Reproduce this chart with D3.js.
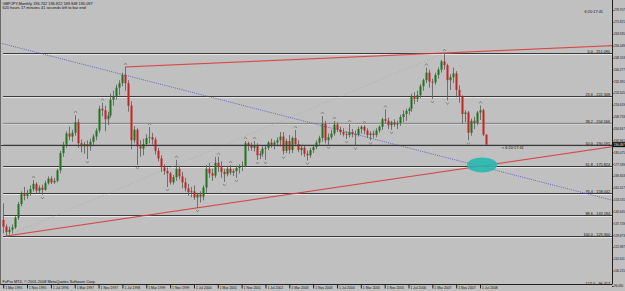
<!DOCTYPE html>
<html><head><meta charset="utf-8">
<script src="https://cdn.jsdelivr.net/npm/d3@7"></script>
<style>
html,body{margin:0;padding:0;background:#c0c0c0;}
svg{display:block;font-family:"Liberation Sans",Arial,sans-serif;}
</style></head><body><div id="chart"></div>
<script>
// GBPJPY monthly bars, Mar 1995 .. Sep 2008
var opens = [140,135.5,132,133.5,135,141.5,150.5,157.5,156,158,160.5,164,159.5,161.5,160,164.5,167.5,165,166,173,184.5,190,197.5,195.5,198,205,191,189,190.5,189,192,195.5,199.5,214,213,207,209.5,220,222,228,231,236.5,231,216,193,200,189,187.5,190.5,194.5,195,193.5,186,181,175,172.5,171,165,168.5,174,169,165,161,158.5,159,155,157,155.5,161.5,174,171,169.5,178,175,172,170.5,174,171.5,172.5,174.5,175.5,176,191,189.5,188,189.5,183,184,187.5,188,191.5,190,191.5,193,195.5,186,192.5,186.5,194.5,190.5,186.5,188,184,183,186.5,188.5,191.5,194.5,204,193,195,197.5,203.5,200,198.5,197,196.5,198.5,197,196.5,200.5,202,199.5,196.5,197.5,196.5,199.5,202,207,206,203,205,203.5,204.5,208.5,210.5,212.5,214,222.5,220.5,223,229,233,238,232,231.5,236.5,240,245.5,243,233,235,237.5,226.5,222,210.5,211.5,198,206,204.5,211.5,213,196.742];
var highs = [151,137,135.5,137,142.5,152,159,162,160,163,166.5,165,163,163.5,166,169,169,168,174,186,192,199,202,200,209.8,207,193.5,192,193,194,197,201,216,218,216,212,224,226,230,233,238,241.8,233,219,202.5,201,193,194,197,201.8,198,195,188,183,177,175,172,170,180,176,172,168,164,162,163,158,159,163,176.5,178,174,181.9,182,179,174,176,176.5,174,176,177,179,192.5,192,191.5,192.5,191,186,189,190,192.5,194,193,195,198.5,198.5,194,196.5,195.5,199.8,193,190,189.5,186,188,190,193,196,209.2,206,197.5,200,205.8,205,202,201,199,203.8,200.5,199.5,202,202.8,203,201,199,199.5,201,203,208,213.5,208,206,207,206,210,213,214,215,224,225,226,230.5,234,241.4,240,234,238,241.5,246.5,251.09,244,237,241.4,239,229.5,223,213,212.5,207.5,208.7,212.5,216.2,214,196.922];
var lows = [131,129.3,130.5,131,134,140,149,153,154,156,159,157.5,158,156.6,159.5,163.5,163.9,164,165,171,182,188,193,192,196,188,185,184,180.5,186,189,193,198,209,199,203,208,216,220,223,229,226,212,187,191,176.5,182,183,189,191,190,183.5,179,172,170,161.9,163.5,163.5,166,167,161,159,156,155,153.5,148,151.5,153,158,168,166,168,172,168,165.3,169,170,169.2,168,171,172.5,175,186,186,185.5,179.9,180.5,182,180,186.5,188,187,189,189,183.5,184.5,184,184.5,189,185,183,182,179.5,181.5,184.5,187,189.5,192,191,190,193.5,196,198.5,196.5,195.5,193.8,195,195,189.5,195.5,197.5,197,194.5,192.9,194.5,195,198,200,204,200.5,200,202,200.5,202.5,205,206,210,212,217,218.5,221,226,231,228,220.5,230,234,238,240,219.5,226.5,231,221.5,218,204,205,192.9,196,200.5,203,206.5,195.8,189.948];
var closes = [135.5,132,133.5,135,141.5,150.5,157.5,156,158,160.5,164,159.5,161.5,160,164.5,167.5,165,166,173,184.5,190,197.5,195.5,198,205,191,189,190.5,189,192,195.5,199.5,214,213,207,209.5,220,222,228,231,236.5,231,216,193,200,189,187.5,190.5,194.5,195,193.5,186,181,175,172.5,171,165,168.5,174,169,165,161,158.5,159,155,157,155.5,161.5,174,171,169.5,178,175,172,170.5,174,171.5,172.5,174.5,175.5,176,191,189.5,188,189.5,183,184,187.5,188,191.5,190,191.5,193,195.5,186,192.5,186.5,194.5,190.5,186.5,188,184,183,186.5,188.5,191.5,194.5,204,193,195,197.5,203.5,200,198.5,197,196.5,198.5,197,196.5,200.5,202,199.5,196.5,197.5,196.5,199.5,202,207,206,203,205,203.5,204.5,208.5,210.5,212.5,214,222.5,220.5,223,229,233,238,232,231.5,236.5,240,245.5,243,233,235,237.5,226.5,222,210.5,211.5,198,206,204.5,211.5,213,196.742,190.097];

var xLabels = ["1 Mar 1995","1 Nov 1995","1 Jul 1996","1 Mar 1997","1 Nov 1997","1 Jul 1998","1 Mar 1999","1 Nov 1999","1 Jul 2000","1 Mar 2001","1 Nov 2001","1 Jul 2002","1 Mar 2003","1 Nov 2003","1 Jul 2004","1 Mar 2005","1 Nov 2005","1 Jul 2006","1 Mar 2007","1 Nov 2007","1 Jul 2008"];
var yTicks = [279.707,271.821,263.935,256.049,248.163,240.277,232.391,224.505,216.619,208.733,200.847,192.961,185.075,177.189,169.303,161.417,153.531,145.645,137.759,129.873,121.987,114.101,106.215,96.030];

// fibo from the Apr 1995 low to the Jul 2007 high
var fiboLevels = [0, 23.6, 38.2, 50, 61.8, 76.4, 88.6, 100, 127];
var fiboHigh = {i: 148, p: 251.09};
var fiboLow = {i: 1, p: 129.30};
// trend lines, anchors in (bar, price)
var lowerTrend = [{i: 1, p: 129.3}, {i: 65, p: 148}];
var upperTrend = [{i: 41, p: 241.8}, {i: 148, p: 251.09}];
var blueLine = [{i: -1, p: 257.7}, {i: 204, p: 153.3}];
var marker = {i: 160.7, p: 176.6};

var header = "GBPJPY,Monthly  196.742 196.922 189.948 190.097";
var timerLine = "620 hours 17 minutes 41 seconds left to bar end";
var timer = "6:20:17:41";
var copyright = "FxPro MT4, \u00a9 2001-2008 MetaQuotes Software Corp.";

var w = 625, h = 291;
var right = 612, bottom = 284.5;
var monthNames = ["Jan","Feb","Mar","Apr","May","Jun","Jul","Aug","Sep","Oct","Nov","Dec"];

var x = d3.scaleLinear().domain([0, 162]).range([3.2, 486]);
var y = d3.scaleLinear().domain([fiboLow.p, fiboHigh.p]).range([236, 53]);

var svg = d3.select("#chart").append("svg")
    .attr("width", w).attr("height", h)
    .style("background-color", "#c0c0c0");

svg.append("clipPath").attr("id", "clip")
   .append("rect").attr("x", 0).attr("y", 0).attr("width", right).attr("height", bottom);

var plot = svg.append("g").attr("clip-path", "url(#clip)");

var bars = d3.range(opens.length).map(function(i) {
    return {i: i, o: opens[i], h: highs[i], l: lows[i], c: closes[i]};
});

var fibPrice = function(lv) { return fiboHigh.p - lv / 100 * (fiboHigh.p - fiboLow.p); };
var f1 = d3.format(".1f"), f3 = d3.format(".3f");

// fibo levels (dark line with a light shadow under it)
fiboLevels.forEach(function(lv) {
    var py = Math.round(y(fibPrice(lv))) + 0.5;
    var light = (lv === 38.2);
    plot.append("line")
        .attr("x1", x(fiboLow.i) - 3).attr("x2", right)
        .attr("y1", py + 1).attr("y2", py + 1)
        .attr("stroke", "#e6e6e6").attr("stroke-width", 1);
    plot.append("line")
        .attr("x1", x(fiboLow.i) - 3).attr("x2", right)
        .attr("y1", py).attr("y2", py)
        .attr("stroke", light ? "#8c8c8c" : "#3a3a3a")
        .attr("stroke-width", (lv === 50 || light) ? 1.6 : 1);
    svg.append("text")
        .attr("x", right - 2).attr("y", py - 0.8)
        .attr("text-anchor", "end")
        .attr("font-size", "3.8px").attr("fill", "#111")
        .text(f1(lv) + " - " + f3(fibPrice(lv)));
});

// fibo diagonal
plot.append("line")
    .attr("x1", x(fiboLow.i)).attr("y1", y(fiboLow.p))
    .attr("x2", x(fiboHigh.i)).attr("y2", y(fiboHigh.p))
    .attr("stroke", "#a4a4a4").attr("stroke-width", 0.7)
    .attr("stroke-dasharray", "1,2");

// trendlines extended to the right edge
function extend(a) {
    var iEnd = x.invert(right + 2);
    var slope = (a[1].p - a[0].p) / (a[1].i - a[0].i);
    return [[x(a[0].i), y(a[0].p)], [x(iEnd), y(a[0].p + slope * (iEnd - a[0].i))]];
}
plot.append("path")
    .attr("d", d3.line()(extend(blueLine)))
    .attr("stroke", "#4b4bc4").attr("stroke-width", 0.8)
    .attr("stroke-dasharray", "1,1.2").attr("fill", "none");

[lowerTrend, upperTrend].forEach(function(t) {
    plot.append("path")
        .attr("d", d3.line()(extend(t)))
        .attr("stroke", "#f09090").attr("stroke-width", 1.6).attr("fill", "none").attr("opacity", 0.45);
    plot.append("path")
        .attr("d", d3.line()(extend(t)))
        .attr("stroke", "#c81e1e").attr("stroke-width", 0.7).attr("fill", "none");
});

// candles
var cx = function(d) { return Math.round(x(d.i)) + 0.5; };
plot.selectAll(".wick").data(bars).enter().append("line")
    .attr("class", "wick")
    .attr("x1", cx).attr("x2", cx)
    .attr("y1", function(d) { return y(d.h); })
    .attr("y2", function(d) { return y(d.l); })
    .attr("stroke", "#5a5a5a").attr("stroke-width", 0.8);

plot.selectAll(".body").data(bars).enter().append("rect")
    .attr("class", "body")
    .attr("x", function(d) { return cx(d) - 1; })
    .attr("width", 2)
    .attr("y", function(d) { return y(Math.max(d.o, d.c)); })
    .attr("height", function(d) { return Math.max(0.8, Math.abs(y(d.o) - y(d.c))); })
    .attr("fill", function(d) { return d.c >= d.o ? "#1d761d" : "#c42424"; });

// fractals
var upF = bars.filter(function(d, k) {
    return k >= 2 && k < bars.length - 2 &&
        d.h > bars[k-1].h && d.h > bars[k-2].h && d.h > bars[k+1].h && d.h > bars[k+2].h;
});
var dnF = bars.filter(function(d, k) {
    return k >= 2 && k < bars.length - 2 &&
        d.l < bars[k-1].l && d.l < bars[k-2].l && d.l < bars[k+1].l && d.l < bars[k+2].l;
});
plot.selectAll(".fup").data(upF).enter().append("path")
    .attr("class", "fup")
    .attr("transform", function(d) { return "translate(" + cx(d) + "," + (y(d.h) - 3) + ")"; })
    .attr("d", "M-1.5,1 L0,-1 L1.5,1")
    .attr("stroke", "#7a7a7a").attr("stroke-width", 0.8).attr("fill", "none");
plot.selectAll(".fdn").data(dnF).enter().append("path")
    .attr("class", "fdn")
    .attr("transform", function(d) { return "translate(" + cx(d) + "," + (y(d.l) + 3) + ")"; })
    .attr("d", "M-1.5,-1 L0,1 L1.5,-1")
    .attr("stroke", "#7a7a7a").attr("stroke-width", 0.8).attr("fill", "none");

// circled spot
plot.append("ellipse")
    .attr("cx", x(marker.i)).attr("cy", y(marker.p))
    .attr("rx", 15).attr("ry", 7.5)
    .attr("fill", "#27b8ae").attr("opacity", 0.9);

// bid line
var last = bars[bars.length - 1];
plot.append("line")
    .attr("x1", 0).attr("x2", right)
    .attr("y1", Math.round(y(last.c)) + 0.5).attr("y2", Math.round(y(last.c)) + 0.5)
    .attr("stroke", "#3a3a3a").attr("stroke-width", 1);

// right axis
var yAxis = d3.axisRight(y).tickValues(yTicks).tickSize(1.5).tickPadding(0.5).tickFormat(f3);
var gy = svg.append("g").attr("transform", "translate(" + right + ",0)").call(yAxis);
gy.select(".domain").attr("stroke", "#222").attr("d", "M0.5,0V" + bottom);
gy.selectAll("line").attr("stroke", "#222");
gy.selectAll("text").attr("font-size", "3px").attr("fill", "#111").attr("font-family", null);

// current price box
var gp = svg.append("g").attr("transform", "translate(" + right + "," + y(last.c) + ")");
gp.append("rect").attr("x", 0.5).attr("y", -2.5).attr("width", 12.5).attr("height", 5).attr("fill", "#111");
gp.append("text").attr("x", 1.8).attr("y", 1.1).attr("font-size", "3px").attr("fill", "#fff").text(f3(last.c));

// bottom axis
var xIdx = xLabels.map(function(s) {
    var p = s.split(" ");
    return (+p[2] - 1995) * 12 + monthNames.indexOf(p[1]) - 2;
});
var xAxis = d3.axisBottom(x).tickValues(xIdx).tickSize(4).tickPadding(0)
    .tickFormat(function(d, k) { return xLabels[k]; });
var gx = svg.append("g").attr("transform", "translate(0," + bottom + ")").call(xAxis);
gx.select(".domain").attr("stroke", "#222").attr("d", "M0," + 0 + "H" + right);
gx.selectAll("line").attr("stroke", "#222");
gx.selectAll("text").attr("font-size", "3.4px").attr("fill", "#111").attr("font-family", null)
    .attr("text-anchor", "start").attr("dx", "1.5px").attr("y", 2).attr("dy", "0.8em");

// left frame
svg.append("line").attr("x1", 0.5).attr("x2", 0.5).attr("y1", 0).attr("y2", bottom)
   .attr("stroke", "#6a6a6a");

// texts
svg.append("text").attr("x", 2.5).attr("y", 5).attr("font-size", "3.9px").attr("fill", "#111").text(header);
svg.append("text").attr("x", 2.5).attr("y", 9).attr("font-size", "3.9px").attr("fill", "#111").text(timerLine);
svg.append("text").attr("x", 603).attr("y", 12.5).attr("text-anchor", "end").attr("font-size", "3.9px").attr("fill", "#111").text(timer);
svg.append("text").attr("x", x(last.i) + 16).attr("y", y(last.c) + 4).attr("font-size", "3.9px").attr("fill", "#111").text("<  " + timer);
svg.append("text").attr("x", 2.5).attr("y", 283).attr("font-size", "3.9px").attr("fill", "#111").text(copyright);
</script></body></html>
